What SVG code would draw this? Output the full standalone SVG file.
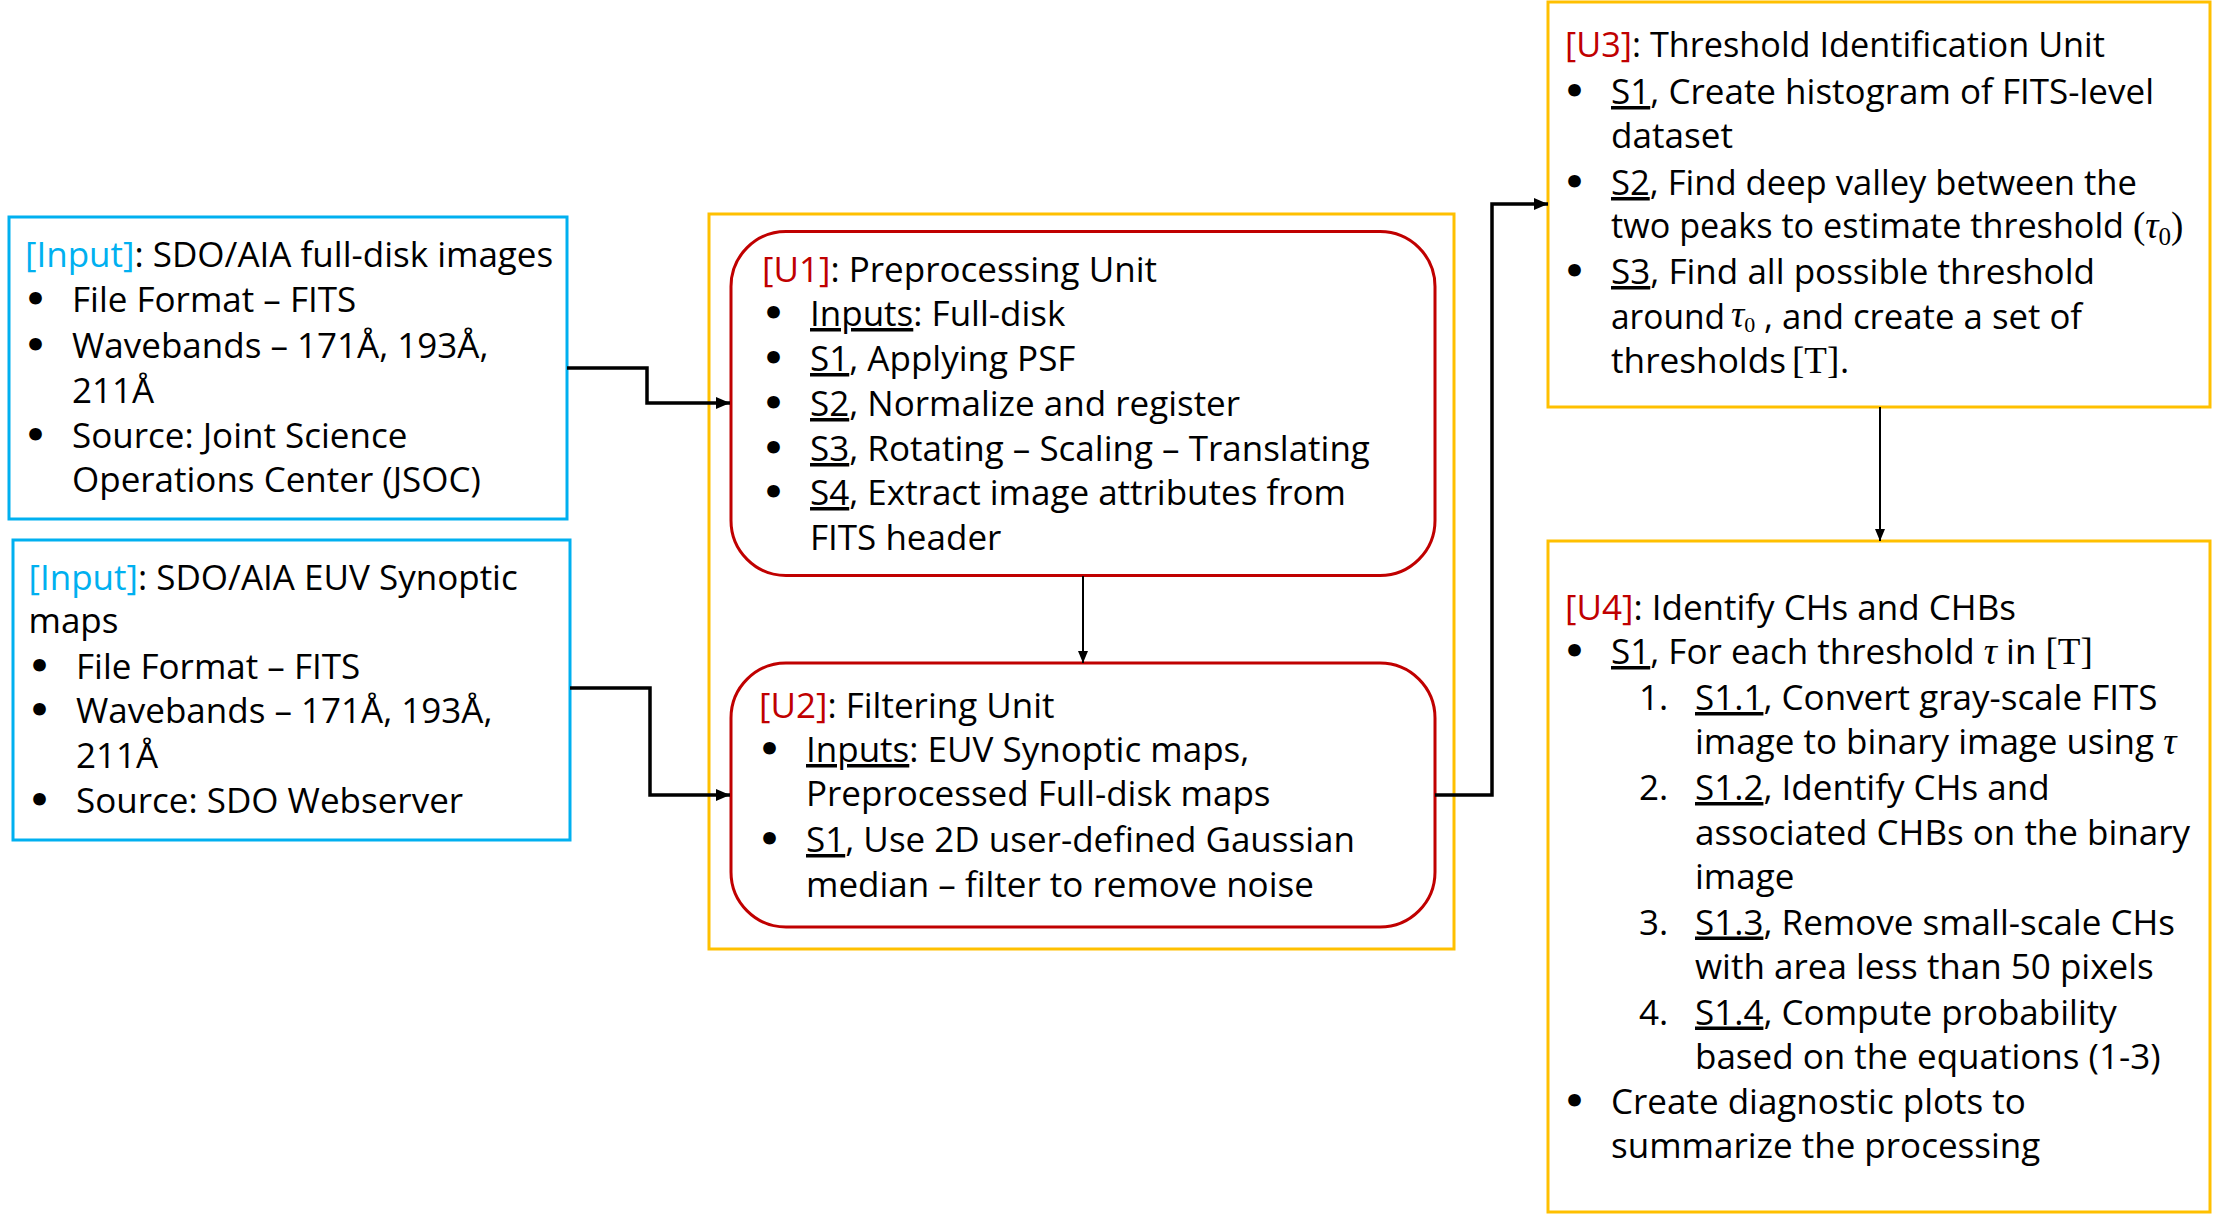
<svg xmlns="http://www.w3.org/2000/svg" width="2222" height="1215" viewBox="0 0 2222 1215">
<defs>
<style>
text{font-family:"Open Sans","Noto Sans",sans-serif;font-size:35px;fill:#000}
text.b{font-family:"DejaVu Sans",sans-serif;font-size:36px;font-weight:bold}
.blue{fill:#00B0F0}
.red{fill:#C00000}
.u{text-decoration:underline}
.m{font-family:"Liberation Serif","DejaVu Serif",serif;font-size:37px}
.mi{font-family:"Liberation Serif","DejaVu Serif",serif;font-style:italic;font-size:37px}
.sub{font-family:"Liberation Serif","DejaVu Serif",serif;font-size:25px}
.sub2{font-family:"Liberation Serif","DejaVu Serif",serif;font-size:22px}
.inbox{fill:#fff;stroke:#00B0F0;stroke-width:3}
.ybox{fill:#fff;stroke:#FFC000;stroke-width:3}
.rbox{fill:#fff;stroke:#C00000;stroke-width:3}
.thick{fill:none;stroke:#000;stroke-width:3.5}
.thin{fill:none;stroke:#000;stroke-width:2}
</style>
<marker id="ah" viewBox="0 0 14 12" refX="14" refY="6" markerWidth="14" markerHeight="12" markerUnits="userSpaceOnUse" orient="auto">
<path d="M0,0 L14,6 L0,12 z" fill="#000"/>
</marker>
<marker id="ahs" viewBox="0 0 12 10" refX="12" refY="5" markerWidth="12" markerHeight="10" markerUnits="userSpaceOnUse" orient="auto">
<path d="M0,0 L12,5 L0,10 z" fill="#000"/>
</marker>
</defs>
<rect x="0" y="0" width="2222" height="1215" fill="#fff"/>

<g id="input1">
<rect class="inbox" x="9" y="217" width="558" height="302"/>
<text x="25" y="267"><tspan class="blue">[Input]</tspan>: SDO/AIA full-disk images</text>
<text class="b" x="24" y="312">•</text><text x="72" y="312">File Format – FITS</text>
<text class="b" x="24" y="358">•</text><text x="72" y="358">Wavebands – 171Å, 193Å,</text>
<text x="72" y="403">211Å</text>
<text class="b" x="24" y="448">•</text><text x="72" y="448">Source: Joint Science</text>
<text x="72" y="492">Operations Center (JSOC)</text>
</g>

<g id="input2">
<rect class="inbox" x="13" y="540" width="557" height="300"/>
<text x="28.5" y="590"><tspan class="blue">[Input]</tspan>: SDO/AIA EUV Synoptic</text>
<text x="28.5" y="633">maps</text>
<text class="b" x="28" y="679">•</text><text x="76" y="679">File Format – FITS</text>
<text class="b" x="28" y="723">•</text><text x="76" y="723">Wavebands – 171Å, 193Å,</text>
<text x="76" y="768">211Å</text>
<text class="b" x="28" y="813">•</text><text x="76" y="813">Source: SDO Webserver</text>
</g>

<g id="container">
<rect class="ybox" x="709" y="214" width="745" height="735"/>
</g>

<g id="u1">
<rect class="rbox" x="731" y="231.5" width="704" height="344" rx="55" ry="55"/>
<text x="762" y="282"><tspan class="red">[U1]</tspan>: Preprocessing Unit</text>
<text class="b" x="762" y="326">•</text><text x="810" y="326"><tspan class="u">Inputs</tspan>: Full-disk</text>
<text class="b" x="762" y="371">•</text><text x="810" y="371"><tspan class="u">S1</tspan>, Applying PSF</text>
<text class="b" x="762" y="416">•</text><text x="810" y="416"><tspan class="u">S2</tspan>, Normalize and register</text>
<text class="b" x="762" y="461">•</text><text x="810" y="461"><tspan class="u">S3</tspan>, Rotating – Scaling – Translating</text>
<text class="b" x="762" y="505">•</text><text x="810" y="505"><tspan class="u">S4</tspan>, Extract image attributes from</text>
<text x="810" y="550">FITS header</text>
</g>

<g id="u2">
<rect class="rbox" x="731" y="663" width="704" height="264" rx="55" ry="55"/>
<text x="759" y="718"><tspan class="red">[U2]</tspan>: Filtering Unit</text>
<text class="b" x="758" y="762">•</text><text x="806" y="762"><tspan class="u">Inputs</tspan>: EUV Synoptic maps,</text>
<text x="806" y="806">Preprocessed Full-disk maps</text>
<text class="b" x="758" y="852">•</text><text x="806" y="852"><tspan class="u">S1</tspan>, Use 2D user-defined Gaussian</text>
<text x="806" y="897">median – filter to remove noise</text>
</g>

<g id="u3">
<rect class="ybox" x="1548" y="2" width="662" height="405"/>
<text x="1565" y="57" textLength="540" lengthAdjust="spacingAndGlyphs"><tspan class="red">[U3]</tspan>: Threshold Identification Unit</text>
<text class="b" x="1563" y="104">•</text><text x="1611" y="104" textLength="543" lengthAdjust="spacingAndGlyphs"><tspan class="u">S1</tspan>, Create histogram of FITS-level</text>
<text x="1611" y="148" textLength="122" lengthAdjust="spacingAndGlyphs">dataset</text>
<text class="b" x="1563" y="195">•</text><text x="1611" y="195" textLength="526" lengthAdjust="spacingAndGlyphs"><tspan class="u">S2</tspan>, Find deep valley between the</text>
<text x="1611" y="238" textLength="513" lengthAdjust="spacingAndGlyphs">two peaks to estimate threshold</text>
<text x="2133" y="238"><tspan class="m">(</tspan><tspan class="mi">τ</tspan><tspan class="sub" dy="7">0</tspan><tspan class="m" dy="-7">)</tspan></text>
<text class="b" x="1563" y="284">•</text><text x="1611" y="284" textLength="484" lengthAdjust="spacingAndGlyphs"><tspan class="u">S3</tspan>, Find all possible threshold</text>
<text x="1611" y="329" textLength="114" lengthAdjust="spacingAndGlyphs">around</text>
<text x="1731" y="327"><tspan class="mi">τ</tspan><tspan class="sub2" dy="5">0</tspan></text>
<text x="1764" y="329" textLength="318" lengthAdjust="spacingAndGlyphs">, and create a set of</text>
<text x="1611" y="373" textLength="175" lengthAdjust="spacingAndGlyphs">thresholds</text>
<text x="1792" y="373" class="m">[T]</text>
<text x="1840" y="373">.</text>
</g>

<g id="u4">
<rect class="ybox" x="1548" y="541" width="662" height="671"/>
<text x="1565" y="620"><tspan class="red">[U4]</tspan>: Identify CHs and CHBs</text>
<text class="b" x="1563" y="664">•</text><text x="1611" y="664"><tspan class="u">S1</tspan>, For each threshold <tspan class="mi">τ</tspan> in <tspan class="m">[T]</tspan></text>
<text x="1639" y="710">1.</text><text x="1695" y="710"><tspan class="u">S1.1</tspan>, Convert gray-scale FITS</text>
<text x="1695" y="754">image to binary image using <tspan class="mi">τ</tspan></text>
<text x="1639" y="800">2.</text><text x="1695" y="800"><tspan class="u">S1.2</tspan>, Identify CHs and</text>
<text x="1695" y="844.5">associated CHBs on the binary</text>
<text x="1695" y="889">image</text>
<text x="1639" y="934.5">3.</text><text x="1695" y="934.5"><tspan class="u">S1.3</tspan>, Remove small-scale CHs</text>
<text x="1695" y="979">with area less than 50 pixels</text>
<text x="1639" y="1024.5">4.</text><text x="1695" y="1024.5"><tspan class="u">S1.4</tspan>, Compute probability</text>
<text x="1695" y="1069">based on the equations (1-3)</text>
<text class="b" x="1563" y="1114">•</text><text x="1611" y="1114">Create diagnostic plots to</text>
<text x="1611" y="1158">summarize the processing</text>
</g>

<g id="connectors">
<path class="thick" d="M567,368 H647 V403 H730" marker-end="url(#ah)"/>
<path class="thick" d="M570,688 H650 V795 H730" marker-end="url(#ah)"/>
<path class="thin" d="M1083,576 V663" marker-end="url(#ahs)"/>
<path class="thick" d="M1435,795 H1492 V204 H1548" marker-end="url(#ah)"/>
<path class="thin" d="M1880,407 V541" marker-end="url(#ahs)"/>
</g>
</svg>
